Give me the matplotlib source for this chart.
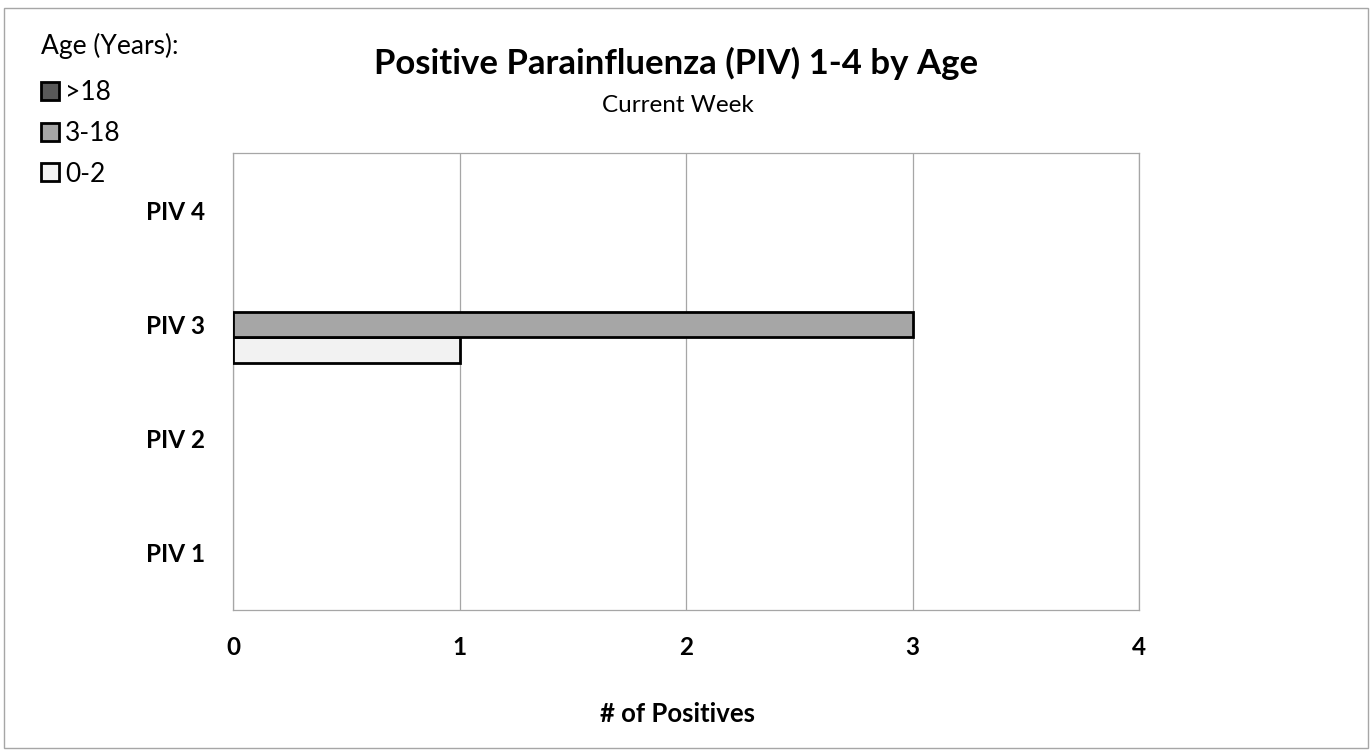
import matplotlib
matplotlib.use("Agg")
import matplotlib.pyplot as plt
from matplotlib.patches import Patch, Rectangle
import numpy as np

plt.rcParams['font.family'] = ['Lato', 'DejaVu Sans']

# data
categories = ['PIV 1', 'PIV 2', 'PIV 3', 'PIV 4']
age_groups = ['0-2', '3-18', '>18']
counts_0_2 = [0, 0, 1, 0]
counts_3_18 = [0, 0, 3, 0]
counts_over_18 = [0, 0, 0, 0]
xticks = [0, 1, 2, 3, 4]

series = [counts_0_2, counts_3_18, counts_over_18]
colors = ['#F2F2F2', '#A6A6A6', '#595959']

fig = plt.figure(figsize=(13.72, 7.5), dpi=100)
ax = fig.add_axes([233 / 1372, 1 - 610 / 750, (1139 - 233) / 1372, (610 - 153) / 750])

y = np.arange(len(categories))
h = 0.223
for i, vals in enumerate(series):
    # no outline on empty bars, like excel
    lw = [2.0 if v > 0 else 0 for v in vals]
    ax.barh(y + (i - 1) * h, vals, height=h, color=colors[i],
            edgecolor='black', linewidth=lw, label=age_groups[i], zorder=3)

ax.set_xlim(0, 4)
ax.set_ylim(-0.5, 3.5)
ax.set_xticks(xticks)
ax.set_yticks(y)
ax.set_yticklabels(categories)
ax.xaxis.grid(True, color='#A6A6A6', linewidth=0.9, zorder=0)
for s in ax.spines.values():
    s.set_color('#A6A6A6')
    s.set_linewidth(0.9)
ax.tick_params(axis='both', length=0, labelsize=17.5)
ax.tick_params(axis='y', pad=20)
ax.tick_params(axis='x', pad=19)
for lab in ax.get_xticklabels() + ax.get_yticklabels():
    lab.set_fontweight('bold')

fig.text(676 / 1372, 1 - 63 / 750, 'Positive Parainfluenza (PIV) 1-4 by Age',
         ha='center', va='center', fontsize=25, fontweight='bold')
fig.text(678 / 1372, 1 - 105 / 750, 'Current Week', ha='center', va='center', fontsize=17.5)
fig.text(678 / 1372, 1 - 714 / 750, '# of Positives', ha='center', va='center',
         fontsize=18.5, fontweight='bold')

# legend
fig.text(41 / 1372, 1 - 46 / 750, 'Age (Years):', ha='left', va='center', fontsize=19)
handles = [Patch(facecolor=colors[i], edgecolor='black', linewidth=2.0, label=age_groups[i])
           for i in range(len(age_groups))][::-1]
leg = fig.legend(handles=handles, loc='upper left', bbox_to_anchor=(41 / 1372, 1 - 80 / 750),
                 frameon=False, fontsize=19, handlelength=0.68, handleheight=0.68,
                 handletextpad=0.23, labelspacing=0.6, borderpad=0, borderaxespad=0)

fig.patches.append(Rectangle((4 / 1372, 2 / 750), 1364 / 1372, 740 / 750,
                             transform=fig.transFigure, fill=False,
                             edgecolor='#A6A6A6', linewidth=1))

fig.savefig('out.png', dpi=100)
